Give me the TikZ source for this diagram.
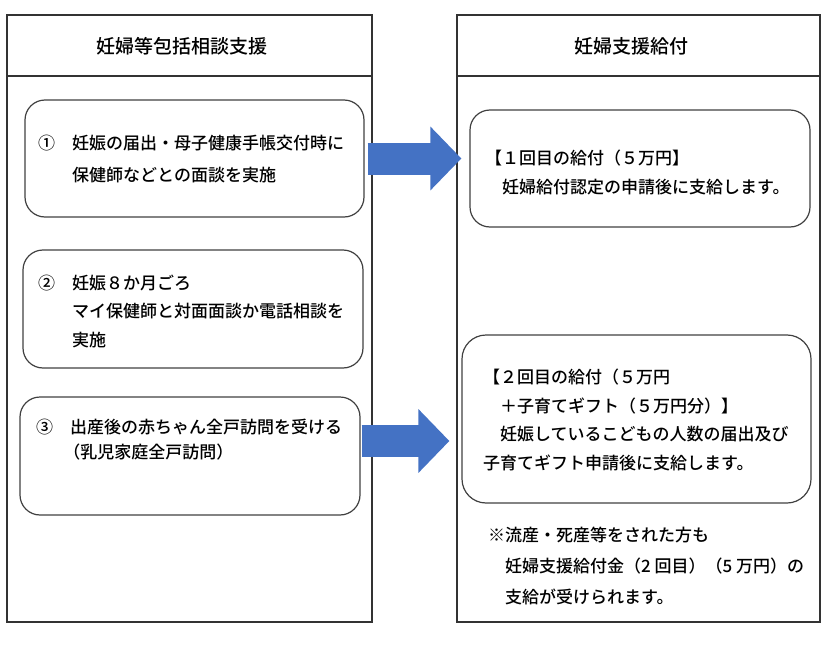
\documentclass[tikz,border=0pt]{standalone}
\usepackage{fontspec}
\setmainfont{Noto Sans CJK JP}[UprightFont={* Medium}]
\usetikzlibrary{calc,arrows.meta}
\definecolor{aoiro}{RGB}{68,114,196}

\begin{document}
\begin{tikzpicture}[x=1pt,y=-1pt,
	panel/.style={draw=black!80,line width=1.4pt},
	soudan/.style={draw=black!75,line width=1.2pt,rounded corners=20pt,inner sep=0pt},
	txt/.style={anchor=west,align=left,inner sep=0pt},
	midashi/.style={inner sep=0pt,font=\fontsize{19}{24}\selectfont},
	yajirushi/.style={line width=32pt,draw=aoiro,-{Triangle[width=62pt,length=31pt]}}]
			          %\draw[help lines] (0,0) grid[step=50] (839,653);
			          \useasboundingbox (0,0) rectangle (839,653);
			          % panels
			          \draw[panel] (7,15) coordinate (LA) rectangle (372,622) coordinate (LB);
			          \draw[panel] (LA |- 0,76) -- (LB |- 0,76);
			          \draw[panel] (457,15) coordinate (RA) rectangle (820,622) coordinate (RB);
			          \draw[panel] (RA |- 0,76) -- (RB |- 0,76);
			          \node[midashi] (h1) at (182,46) {妊婦等包括相談支援};
			          \node[midashi] (h2) at (631,46) {妊婦支援給付};
			          % boxes
			          \node[soudan,minimum width=339,minimum height=117] (b1) at (194.5,158.5) {};
			          \node[soudan,minimum width=340,minimum height=118] (b2) at (193,309) {};
			          \node[soudan,minimum width=340,minimum height=118] (b3) at (190,456) {};
			          \node[soudan,minimum width=340,minimum height=117] (k1) at (640,168.5) {};
			          \node[soudan,minimum width=349,minimum height=168,rounded corners=24pt] (k2) at (636.5,419) {};
			          % texts
			          \node[txt,font=\fontsize{17}{32}\selectfont] (t1) at (38,159) {①　妊娠の届出・母子健康手帳交付時に\\　　保健師などとの面談を実施};
			          \node[txt,font=\fontsize{17}{28.5}\selectfont] (t2) at (38,311) {②　妊娠８か月ごろ\\　　マイ保健師と対面面談か電話相談を\\　　実施};
			          \node[txt,font=\fontsize{17}{25}\selectfont] (t3) at (36,440) {③　出産後の赤ちゃん全戸訪問を受ける\\\hspace*{1.6em}（乳児家庭全戸訪問）};
			          \node[txt,font=\fontsize{17}{29}\selectfont] (u1) at (485,172.5) {【１回目の給付（５万円】\\　妊婦給付認定の申請後に支給します。};
			          \node[txt,font=\fontsize{17}{28.7}\selectfont] (u2) at (483,420) {【２回目の給付（５万円\\　＋子育てギフト（５万円分）】\\　妊娠しているこどもの人数の届出及び\\子育てギフト申請後に支給します。};
			          \node[txt,font=\fontsize{17}{31}\selectfont] (nt) at (488,566) {※流産・死産等をされた方も\\　妊婦支援給付金（2 回目）（5 万円）の\\　支給が受けられます。};
			          % arrows
			          \draw[yajirushi] ($(b1.east)+(3,0)$) -- ($(b1.east -| k1.west)+(-8,0)$);
			          \draw[yajirushi] ($(b3.east)+(1,-15)$) -- ($(b3.east -| k2.west)+(-12,-15)$);
\end{tikzpicture}
\end{document}
